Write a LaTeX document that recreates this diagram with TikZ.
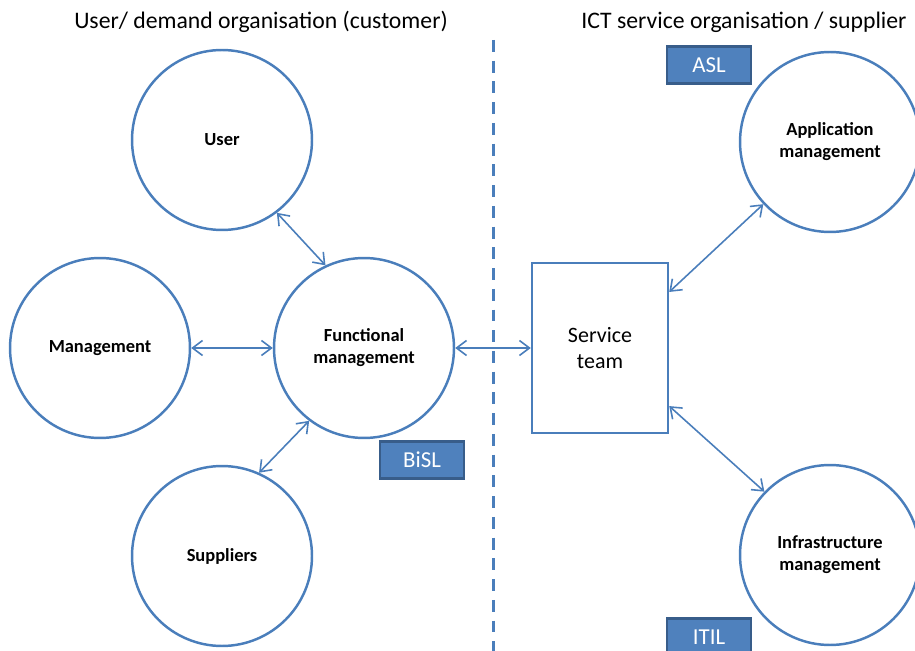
\documentclass[tikz,border=0pt]{standalone}
\usepackage{fontspec}
\setmainfont{Carlito}
\usepackage{tikz}
\usetikzlibrary{shapes,arrows.meta}

\definecolor{lineblue}{HTML}{4A7EBB}
\definecolor{boxblue}{HTML}{4F81BD}
\definecolor{boxedge}{HTML}{385D8A}

\tikzset{
	party/.style={circle,draw=lineblue,line width=1.4pt,minimum size=3.6cm,inner sep=0pt,align=center,font=\fontsize{10.5}{12.5}\selectfont\bfseries},
	teambox/.style={rectangle,draw=lineblue,line width=1.4pt,minimum width=2.72cm,minimum height=3.4cm,align=center,font=\fontsize{12.5}{15}\selectfont},
	method/.style={rectangle,draw=boxedge,line width=1.2pt,fill=boxblue,text=white,minimum width=1.68cm,minimum height=0.74cm,font=\fontsize{13}{15}\selectfont},
	side/.style={font=\fontsize{13.5}{16}\selectfont},
	link/.style={<->,draw=lineblue,line width=0.9pt,>={Straight Barb[length=2mm,width=3mm]}}
}

\begin{document}
\begin{tikzpicture}[x=0.02cm,y=-0.02cm]
			\useasboundingbox (0,0) rectangle (915,651);

			\node[side] (left) at (261,22) {User/ demand organisation (customer)};
			\node[side] (right) at (744,22) {ICT service organisation / supplier};

			% border between customer and supplier
			\draw[lineblue,line width=1.7pt,dash pattern=on 6.8pt off 5pt] (493,40) -- (493,651);

			\node[party] (user) at (222,140) {User};
			\node[party] (mgmt) at (100,348) {Management};
			\node[party] (func) at (364,348) {Functional\\management};
			\node[party] (supp) at (222,556) {Suppliers};
			\node[party] (app) at (830,142) {Application\\management};
			\node[party] (infra) at (830,555) {Infrastructure\\management};
			\node[teambox] (team) at (600,348) {Service\\team};

			\node[method] (bisl) at (422,460) {BiSL};
			\node[method] (asl) at (709,65) {ASL};
			\node[method] (itil) at (709,637) {ITIL};

			\path[link] (user.-53) -- (func.115);
			\path[link] (mgmt) -- (func);
			\path[link] (func.233) -- (supp.66);
			\path[link] (func) -- (team);
			\path[link] (team.39.5) -- (app.223);
			\path[link] (team.-40) -- (infra.136);
		\end{tikzpicture}
\end{document}
